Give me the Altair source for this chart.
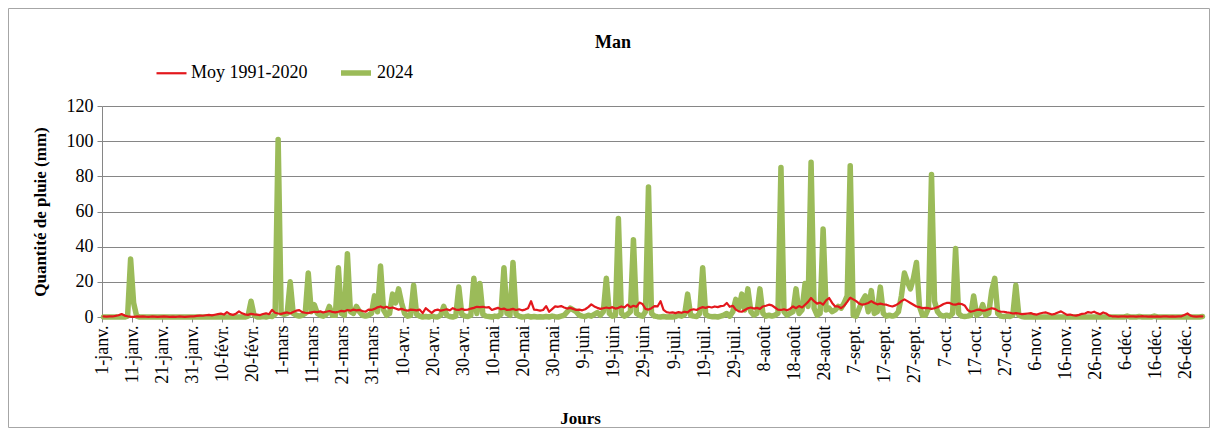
import altair as alt
import pandas as pd

TITLE = "Man"
SERIES = ["Moy 1991-2020", "2024"]
COLORS = ["#e3171c", "#9bbb59"]
TICK_LABELS = ["1-janv.", "11-janv.", "21-janv.", "31-janv.", "10-févr.", "20-févr.",
               "1-mars", "11-mars", "21-mars", "31-mars", "10-avr.", "20-avr.", "30-avr.",
               "10-mai", "20-mai", "30-mai", "9-juin", "19-juin", "29-juin", "9-juil.",
               "19-juil.", "29-juil.", "8-août", "18-août", "28-août", "7-sept.", "17-sept.",
               "27-sept.", "7-oct.", "17-oct.", "27-oct.", "6-nov.", "16-nov.", "26-nov.",
               "6-déc.", "16-déc.", "26-déc."]
Y_TICKS = [0, 20, 40, 60, 80, 100, 120]

# Moyenne 1991-2020 (mm/jour), par mois
moy_jan = [0.3,0.2,0.4,0.3,0.6,1.0,1.7,0.8,0.4,0.2,0.1,0.3,0.2,0.4,0.2,0.1,0.3,0.2,0.1,0.2,0.3,0.2,0.1,0.2,0.1,0.3,0.2,0.1,0.2,0.3,0.4]
moy_feb = [0.6,0.8,0.7,1.0,1.2,0.9,1.3,1.6,1.9,1.4,2.8,1.6,1.2,1.9,3.2,2.1,1.5,1.2,1.8,1.5,1.3,1.1,1.7,2.1,1.6,4.0,2.4,2.0,1.8]
moy_mar = [2.2,2.6,2.0,2.8,3.6,3.9,2.8,2.4,2.2,2.6,3.0,2.8,3.2,2.6,3.0,3.4,2.9,2.6,3.0,3.5,3.2,4.0,3.6,4.2,3.8,4.0,3.4,3.0,4.2,4.0,4.6]
moy_apr = [5.5,6.0,5.2,5.8,5.0,5.4,4.8,4.2,4.6,4.0,3.6,4.2,4.0,3.8,4.2,2.2,5.0,3.6,2.4,3.8,4.2,3.6,4.0,4.4,3.8,5.0,4.2,4.0,4.6,4.0]
moy_may = [4.2,4.8,5.2,5.8,5.6,5.8,5.4,5.6,4.0,4.6,5.2,4.4,4.8,4.0,4.2,4.6,4.0,4.4,3.8,4.2,5.0,9.0,4.2,4.0,3.6,4.0,6.2,3.0,4.5,6.0,5.8]
moy_jun = [6.2,5.4,4.8,5.2,4.6,4.0,4.2,3.8,4.4,5.6,7.2,6.0,5.2,4.6,5.0,5.4,5.0,5.6,4.8,5.2,6.0,5.4,7.0,5.6,6.4,5.8,8.2,7.4,4.6,4.2]
moy_jul = [5.0,6.2,6.0,9.0,4.0,2.8,2.4,2.6,2.2,2.8,2.4,3.0,2.6,4.0,4.4,4.0,5.0,5.6,5.2,5.8,5.4,6.0,5.6,6.2,6.4,8.0,5.8,6.4,4.2,3.2,3.0]
moy_aug = [4.0,5.0,5.4,4.8,5.2,4.6,6.0,6.4,7.0,6.6,5.4,4.2,4.0,4.4,3.8,4.6,6.0,5.0,6.2,5.4,7.0,8.6,10.8,9.0,7.6,8.2,7.0,9.4,10.8,8.0,6.0]
moy_sep = [6.0,5.0,6.4,8.6,11.0,10.0,9.0,7.6,7.0,7.4,8.0,9.0,8.0,7.2,7.6,7.2,7.0,6.4,6.0,6.6,7.6,9.0,10.0,9.0,8.0,7.0,6.0,5.6,5.0,5.2]
moy_oct = [5.0,4.6,5.0,5.6,6.4,7.4,8.0,8.0,7.2,7.0,7.6,7.4,6.6,4.0,3.0,3.4,4.0,4.2,3.6,3.8,4.4,5.0,4.6,3.6,3.0,3.0,2.6,2.4,2.0,2.2,2.0]
moy_nov = [1.6,1.8,2.0,2.2,1.6,1.4,2.0,2.4,2.6,2.0,1.4,1.8,2.6,3.2,2.2,1.2,1.4,1.0,0.8,1.2,1.8,2.0,2.8,2.4,3.0,2.2,1.6,2.6,2.0,0.8]
moy_dec = [0.4,0.3,0.2,0.4,0.3,0.2,0.3,0.4,0.2,0.3,0.5,0.3,0.2,0.3,0.2,0.3,0.2,0.4,0.3,0.2,0.3,0.2,0.3,0.4,1.2,2.0,0.8,0.3,0.2,0.3,0.4]

# 2024 (mm/jour), par mois
y24_jan = [0,0,0,0,0,0,0,0,0.5,33,8,0.5,0,0,0,0,0,0,0,0,0,0,0,0,0,0,0,0,0,0,0]
y24_feb = [0,0,0,0,0,0,0,0,0,0,0,0,0,0,0,0,0,0.5,9,1,0,0,0.3,0,0.5,0.3,1.5,101,2]
y24_mar = [1.5,2,20,2,1,0.5,1,2,25,3,7,2,1,0.5,1.5,6,1,1,28,2,1,36,3,2,6,3,1,0.5,1,2,12]
y24_apr = [3,29,4,1,2,13,8,16,8,2,0.5,1,18,1.5,0.5,0,0.3,0,0.5,0.2,0,1,6,1,0.3,0,0.5,17,1.5,0.5]
y24_may = [0.3,1,22,2,19,1.5,0.5,0.3,0,0.5,0.3,1.5,28,2,1,31,1.5,0.5,0,0.2,0.5,0,0.3,0,0.2,0,0.3,0,0.5,0.2,0]
y24_jun = [0.5,1,3,5,4,3,1,0.5,0.3,1,0.5,1.5,2.5,1,3,22,2,0.5,1,56,2,0.5,1.5,3,44,2,1,0.5,3,74]
y24_jul = [2,0.5,0.2,0,0.3,0,0.2,0,0.3,1,0.5,1.5,13,1,0.5,0.3,2,28,1.5,0.5,0.2,0.3,0,0.5,1,2,0.5,3,10,5,13]
y24_aug = [4,16,3,1,2,16,2,0.5,1,0.5,1,2,85,3,1,2,3,16,2,4,19,6,88,5,1,2,50,4,5,3,4]
y24_sep = [6,5,8,12,86,1,0.5,5,9,12,3,15,2,3,17,2,0.5,1,0.5,1,3,12,25,20,16,22,31,6,1,1]
y24_oct = [5,81,9,3,1,0.5,1,0.5,2,39,2,0.5,0.3,0.5,1,12,1,2,7,1,2,15,22,2,0.5,0.3,0.5,0.3,1,18,1]
y24_nov = [0.3,0,0,0.2,0,0,0,0,0,0,0.2,0,0,0,0,0,0,0,0,0,0,0,0,0,0,0,0,0,0,0]
y24_dec = [0,0,0,0,0,0.5,0,0,0,0.3,0,0,0,0,0.5,0,0,0,0,0,0,0,0,0,0,0,0,0,0,0,0.3]

moy = moy_jan + moy_feb + moy_mar + moy_apr + moy_may + moy_jun + moy_jul + moy_aug + moy_sep + moy_oct + moy_nov + moy_dec
y24 = y24_jan + y24_feb + y24_mar + y24_apr + y24_may + y24_jun + y24_jul + y24_aug + y24_sep + y24_oct + y24_nov + y24_dec

rows = []
for i, v in enumerate(moy):
    rows.append({"jour": i + 0.5, "serie": SERIES[0], "pluie": v})
for i, v in enumerate(y24):
    rows.append({"jour": i + 0.5, "serie": SERIES[1], "pluie": v})
df = pd.DataFrame(rows)

W, H = 1102, 211
PAD = {"left": 94, "top": 98, "right": 6, "bottom": 111}
FONT = "Liberation Serif"
GRID = "#868686"

label_expr = "[" + ",".join("'" + s + "'" for s in TICK_LABELS) + "][round(datum.value/10)]"

legend = alt.Legend(
    title=None, orient="none", legendX=53, legendY=-51, direction="horizontal",
    symbolType="stroke", symbolSize=900, labelFont=FONT, labelFontSize=18,
    labelColor="black", columnPadding=22, labelOffset=3,
)

base = alt.Chart(df).encode(
    x=alt.X("jour:Q",
            scale=alt.Scale(domain=[0, 366], nice=False, zero=False),
            axis=alt.Axis(values=list(range(0, 361, 10)), labelExpr=label_expr,
                          labelAngle=270, labelFont=FONT, labelFontSize=18,
                          labelColor="black", labelPadding=3, tickSize=5,
                          tickColor=GRID, domainColor=GRID, grid=False,
                          labelOverlap=False, labelBound=False, labelFlush=False,
                          title="Jours", titleFont=FONT, titleFontSize=17,
                          titleFontWeight="bold", titleColor="black",
                          titleX=478, titleY=93)),
    y=alt.Y("pluie:Q",
            scale=alt.Scale(domain=[0, 120], nice=False),
            axis=alt.Axis(values=Y_TICKS, grid=True, gridColor=GRID, gridWidth=1,
                          labelFont=FONT, labelFontSize=18, labelColor="black",
                          labelPadding=4, tickSize=5, tickColor=GRID, domainColor=GRID,
                          title="Quantité de pluie (mm)", titleFont=FONT,
                          titleFontSize=17, titleFontWeight="bold", titleColor="black",
                          titlePadding=17)),
    color=alt.Color("serie:N", scale=alt.Scale(domain=SERIES, range=COLORS), legend=legend),
    strokeWidth=alt.StrokeWidth("serie:N", scale=alt.Scale(domain=SERIES, range=[2.2, 5.5]), legend=legend),
)

green = base.transform_filter(alt.datum.serie == SERIES[1]).mark_line(strokeJoin="round", strokeCap="round")
red = base.transform_filter(alt.datum.serie == SERIES[0]).mark_line(strokeJoin="round", strokeCap="round")

frame = alt.Chart(alt.Data(values=[{"a": 1}])).mark_rect(
    fill="transparent", stroke="#a6a6a6", strokeWidth=1
).encode(
    x=alt.value(-PAD["left"] + 0.5), x2=alt.value(W + PAD["right"] - 0.5),
    y=alt.value(-PAD["top"] + 0.5), y2=alt.value(H + PAD["bottom"] - 0.5),
)

chart = alt.layer(frame, green, red).properties(
    width=W, height=H,
    title=alt.TitleParams(TITLE, font=FONT, fontSize=18, fontWeight="bold", color="black",
                          anchor="middle", frame="group", dx=-40, offset=-44),
    autosize=alt.AutoSizeParams(type="none"),
    padding=PAD,
    background="white",
).configure_view(stroke="transparent")

chart.save("out.html", embed_options={"renderer": "svg", "actions": False})
